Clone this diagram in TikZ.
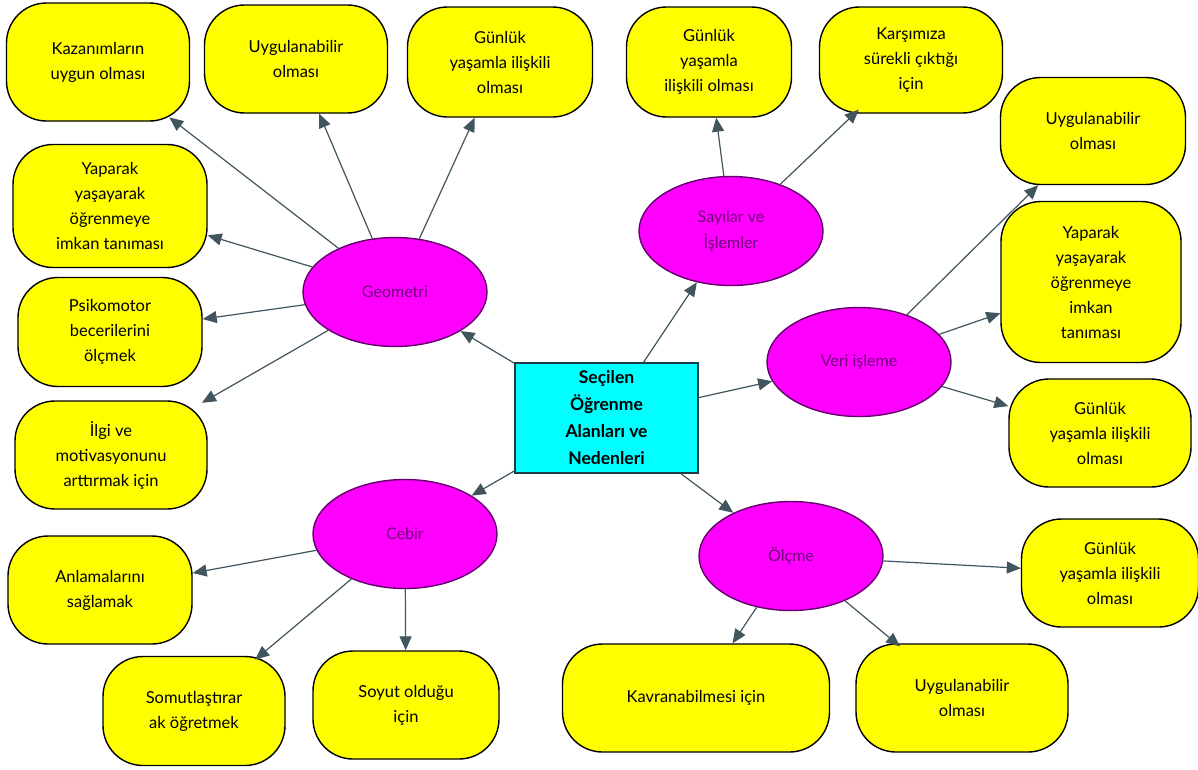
\documentclass[tikz,border=0pt]{standalone}
\usepackage{fontspec}
\setmainfont{Lato}
\usetikzlibrary{shapes.geometric,arrows.meta}
\definecolor{boxyellow}{RGB}{255,255,0}
\definecolor{areamag}{RGB}{255,0,255}
\definecolor{areaedge}{RGB}{100,0,110}
\definecolor{areatext}{RGB}{110,0,120}
\definecolor{rootcyan}{RGB}{0,255,255}
\definecolor{rootedge}{RGB}{30,60,70}
\definecolor{arrowc}{RGB}{65,85,95}
\tikzset{
  reason/.style={draw=black, line width=1.4pt, fill=boxyellow, rounded corners=40pt,
    align=center, inner sep=0pt, font=\fontsize{16.5}{25}\selectfont},
  wh/.style 2 args={minimum width=#1, minimum height=#2},
  area/.style={ellipse, draw=areaedge, line width=1.4pt, fill=areamag, text=areatext,
    minimum width=184pt, minimum height=109pt, inner sep=0pt, align=center,
    font=\fontsize{16}{26}\selectfont},
  root/.style={rectangle, draw=rootedge, line width=1.4pt, fill=rootcyan, align=center,
    minimum width=183pt, minimum height=110pt, inner sep=0pt,
    font=\bfseries\fontsize{17.5}{27}\selectfont},
  arr/.style={draw=arrowc, line width=1.2pt, -{Triangle[length=14pt,width=12pt]}}
}
\begin{document}
\begin{tikzpicture}[x=1pt,y=-1pt]
\fill[white] (0,0) rectangle (1198,769);
\useasboundingbox (0,0) rectangle (1198,769);

% centre
\node[root] (root) at (606.5,418) {Seçilen\\Öğrenme\\Alanları ve\\Nedenleri};

% areas
\node[area] (geo) at (395,292) {Geometri};
\node[area] (say) at (731,231) {Sayılar ve\\İşlemler};
\node[area] (veri) at (859,362) {Veri işleme};
\node[area] (cebir) at (405,534) {Cebir};
\node[area] (olcme) at (791,556) {Ölçme};

% reasons
\node[reason, wh={183pt}{118pt}] (kaz) at (98,62) {Kazanımların\\uygun olması};
\node[reason, wh={183pt}{108pt}] (uygA) at (296,59) {Uygulanabilir\\olması};
\node[reason, wh={185pt}{110pt}] (gunA) at (500,62) {Günlük\\yaşamla ilişkili\\olması};
\node[reason, wh={194pt}{123pt}] (yapA) at (110,206) {Yaparak\\yaşayarak\\öğrenmeye\\imkan tanıması};
\node[reason, wh={184pt}{109pt}] (psiko) at (110,332) {Psikomotor\\becerilerini\\ölçmek};
\node[reason, wh={192pt}{108pt}] (ilgi) at (111,455) {İlgi ve\\motivasyonunu\\arttırmak için};

\node[reason, wh={165pt}{110pt}] (gunB) at (709,62) {Günlük\\yaşamla\\ilişkili olması};
\node[reason, wh={183pt}{106pt}] (kars) at (911,60) {Karşımıza\\sürekli çıktığı\\için};

\node[reason, wh={185pt}{107pt}] (uygB) at (1093,131) {Uygulanabilir\\olması};
\node[reason, wh={180pt}{161pt}] (yapB) at (1091,282) {Yaparak\\yaşayarak\\öğrenmeye\\imkan\\tanıması};
\node[reason, wh={182pt}{108pt}] (gunC) at (1100,433) {Günlük\\yaşamla ilişkili\\olması};

\node[reason, wh={184pt}{108pt}] (anlam) at (100,590) {Anlamalarını\\sağlamak};
\node[reason, wh={182pt}{109pt}] (somut) at (194,711) {Somutlaştırar\\ak öğretmek};
\node[reason, wh={186pt}{108pt}] (soyut) at (406,705) {Soyut olduğu\\için};

\node[reason, wh={267pt}{108pt}] (kavr) at (696,698) {Kavranabilmesi için};
\node[reason, wh={212pt}{108pt}] (uygC) at (962,698) {Uygulanabilir\\olması};
\node[reason, wh={177pt}{108pt}] (gunD) at (1110,573) {Günlük\\yaşamla ilişkili\\olması};

% connectors from centre
\draw[arr] (root) -- (geo);
\draw[arr] (root) -- (say);
\draw[arr] (root) -- (veri);
\draw[arr] (root) -- (cebir);
\draw[arr] (root) -- (olcme);

% geometri
\draw[arr, shorten >=-7pt] (geo) -- (kaz);
\draw[arr] (geo) -- (uygA);
\draw[arr] (geo) -- (gunA);
\draw[arr] (geo) -- (yapA);
\draw[arr] (geo) -- (psiko);
\draw[arr, shorten >=-5pt] (geo) -- (ilgi);

% sayilar
\draw[arr] (say) -- (gunB);
\draw[arr, shorten >=-6pt] (say) -- (kars);

% veri
\draw[arr] (veri) -- (uygB);
\draw[arr] (veri) -- (yapB);
\draw[arr] (veri) -- (gunC);

% cebir
\draw[arr] (cebir) -- (anlam);
\draw[arr, shorten >=-6pt] (cebir) -- (somut);
\draw[arr] (cebir) -- (soyut);

% olcme
\draw[arr] (olcme) -- (kavr);
\draw[arr, shorten >=-5pt] (olcme) -- (uygC);
\draw[arr] (olcme) -- (gunD);
\end{tikzpicture}
\end{document}
